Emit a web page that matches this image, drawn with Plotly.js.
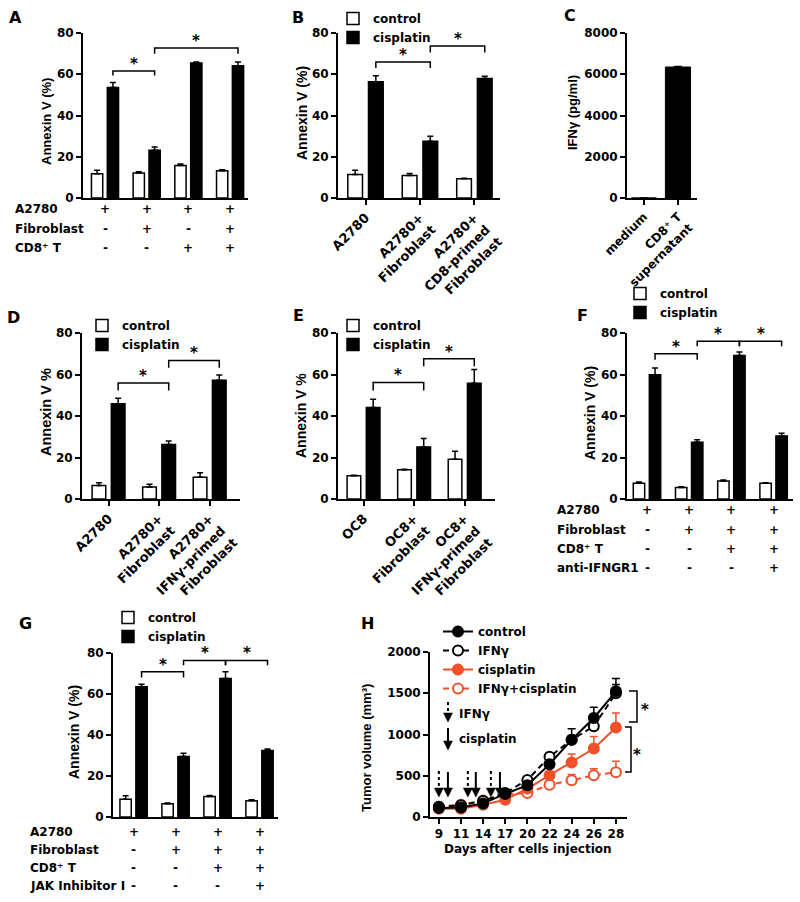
<!DOCTYPE html>
<html><head><meta charset="utf-8">
<script src="https://cdn.plot.ly/plotly-3.0.1.min.js"></script>
<style>html,body{margin:0;padding:0;background:#fff}#chart{width:800px;height:902px}</style>
</head><body><div id="chart"></div>
<script>
// ---------------- DATA ----------------
// Panel A
const groupsA = ['1', '2', '3', '4'];
const ctrlA = [11.8, 12.1, 15.8, 13.2];
const ctrlErrA = [1.6, 0.6, 0.7, 0.5];
const cisA = [53.6, 23.1, 65.4, 64.1];
const cisErrA = [2.4, 1.6, 0.5, 1.8];
const rowsA = ['A2780', 'Fibroblast', 'CD8⁺ T'];
const cellsA = [['+', '+', '+', '+'], ['-', '+', '-', '+'], ['-', '-', '+', '+']];
// Panel B
const groupsB = ['A2780', 'A2780+<br>Fibroblast', 'A2780+<br>CD8-primed<br>Fibroblast'];
const ctrlB = [11.4, 10.9, 9.3];
const ctrlErrB = [2.1, 1.0, 0.3];
const cisB = [56.4, 27.5, 58.0];
const cisErrB = [2.9, 2.4, 1.0];
// Panel C
const groupsC = ['medium', 'CD8⁺ T<br>supernatant'];
const ifngC = [0, 6350];
const ifngErrC = [0, 30];
// Panel D
const groupsD = ['A2780', 'A2780+<br>Fibroblast', 'A2780+<br>IFNγ-primed<br>Fibroblast'];
const ctrlD = [6.5, 5.8, 10.5];
const ctrlErrD = [1.3, 1.3, 2.1];
const cisD = [45.9, 26.3, 57.2];
const cisErrD = [2.7, 1.6, 2.6];
// Panel E
const groupsE = ['OC8', 'OC8+<br>Fibroblast', 'OC8+<br>IFNγ-primed<br>Fibroblast'];
const ctrlE = [11.2, 14.1, 19.1];
const ctrlErrE = [0.2, 0.2, 3.9];
const cisE = [44.1, 25.1, 55.8];
const cisErrE = [4.0, 4.1, 6.6];
// Panel F
const groupsF = ['1', '2', '3', '4'];
const ctrlF = [7.6, 5.6, 8.7, 7.6];
const ctrlErrF = [0.6, 0.3, 0.5, 0.2];
const cisF = [59.9, 27.4, 69.1, 30.4];
const cisErrF = [3.2, 1.1, 1.8, 1.3];
const rowsF = ['A2780', 'Fibroblast', 'CD8⁺ T', 'anti-IFNGR1'];
const cellsF = [['+', '+', '+', '+'], ['-', '+', '+', '+'], ['-', '-', '+', '+'], ['-', '-', '-', '+']];
// Panel G
const groupsG = ['1', '2', '3', '4'];
const ctrlG = [8.7, 6.5, 10.0, 7.9];
const ctrlErrG = [1.7, 0.3, 0.5, 0.5];
const cisG = [63.5, 29.5, 67.5, 32.4];
const cisErrG = [1.2, 1.6, 3.3, 0.8];
const rowsG = ['A2780', 'Fibroblast', 'CD8⁺ T', 'JAK Inhibitor I'];
const cellsG = [['+', '+', '+', '+'], ['-', '+', '+', '+'], ['-', '-', '+', '+'], ['-', '-', '-', '+']];
// Panel H
const daysH = ['9', '11', '14', '17', '20', '22', '24', '26', '28'];
const controlH = [108, 116, 165, 280, 385, 640, 936, 1200, 1524];
const controlErrH = [10, 10, 15, 20, 30, 50, 134, 130, 155];
const ifngH = [125, 142, 195, 292, 450, 730, 935, 1100, 1500];
const ifngErrH = [10, 10, 15, 20, 25, 30, 40, 20, 106];
const cisH = [100, 100, 148, 210, 345, 505, 660, 830, 1085];
const cisErrH = [10, 10, 15, 20, 25, 40, 105, 145, 175];
const ifngCisH = [125, 150, 200, 275, 290, 390, 445, 505, 543];
const ifngCisErrH = [10, 10, 15, 20, 20, 20, 70, 80, 134];

// ---------------- HELPERS ----------------
const RED = '#F0502A';
const FONT = {family: 'DejaVu Sans', size: 12, weight: 'bold', color: 'black'};
const RFONT = {family: 'DejaVu Sans', size: 13, weight: 'bold', color: 'black'};
const TFONT = (s) => ({family: 'Liberation Sans', size: s, weight: 'bold', color: 'black'});
const PX = (x) => x / 800;
const PY = (y) => 1 - y / 902;
const idx = (a) => a.map((_, i) => i);
const zeros = (a) => a.map(() => 0);
const axId = (n, t) => (n === 1 ? t : t + n);
const axKey = (n, t) => (n === 1 ? t + 'axis' : t + 'axis' + n);

const traces = [], annotations = [], shapes = [];
const layout = {
  width: 800, height: 902, margin: {l: 0, r: 0, t: 0, b: 0},
  paper_bgcolor: 'white', plot_bgcolor: 'rgba(0,0,0,0)',
  font: FONT, barmode: 'overlay', hovermode: false,
  annotations, shapes
};

function eb(arr, color, w) {
  return {type: 'data', symmetric: false, array: arr, arrayminus: zeros(arr),
          color: color, thickness: 1.5, width: w || 3};
}

function setAxes(p) {
  const xa = {
    domain: [PX(p.x[0]), PX(p.x[1])], range: p.xr, anchor: axId(p.id, 'y'),
    showline: true, linewidth: 2, linecolor: 'black', showgrid: false, zeroline: false,
    ticks: p.labels ? 'outside' : '', ticklen: 5, tickwidth: 2, tickcolor: 'black',
    showticklabels: !!p.labels, tickfont: FONT, fixedrange: true, automargin: false
  };
  if (p.category) { xa.type = 'category'; }
  else if (p.labels) { xa.tickmode = 'array'; xa.tickvals = idx(p.labels); xa.ticktext = p.labels; xa.tickangle = -45; xa.tickfont = p.tfont || RFONT; }
  layout[axKey(p.id, 'x')] = xa;
  layout[axKey(p.id, 'y')] = {
    domain: [PY(p.y[0]), PY(p.y[1])], range: p.yr, anchor: axId(p.id, 'x'),
    showline: true, linewidth: 2, linecolor: 'black', showgrid: false, zeroline: false,
    ticks: 'outside', ticklen: 5, tickwidth: 2, tickcolor: 'black',
    tick0: 0, dtick: p.dtick, tickfont: FONT, fixedrange: true, automargin: false
  };
  annotations.push({xref: 'paper', yref: 'paper', x: PX(p.tx), y: PY(p.ty), text: p.title,
    textangle: -90, showarrow: false, font: TFONT(p.ts), xanchor: 'center', yanchor: 'middle'});
  annotations.push({xref: 'paper', yref: 'paper', x: PX(p.lx), y: PY(p.ly), text: p.letter,
    showarrow: false, font: {family: 'DejaVu Sans', size: 16, weight: 'bold', color: 'black'},
    xanchor: 'center', yanchor: 'middle'});
}

const W = 0.27, OFF = 0.19;
function addBars(n, groups, ctrl, ctrlErr, cis, cisErr, legendId) {
  const x = idx(groups);
  const common = {type: 'bar', x: x, xaxis: axId(n, 'x'), yaxis: axId(n, 'y'), width: W,
                  showlegend: !!legendId, legend: legendId || 'legend'};
  traces.push(Object.assign({}, common, {y: ctrl, offset: -OFF - W / 2, name: 'control',
    marker: {color: 'white', line: {color: 'black', width: 1.5}}, error_y: eb(ctrlErr, 'black')}));
  traces.push(Object.assign({}, common, {y: cis, offset: OFF - W / 2, name: 'cisplatin',
    marker: {color: 'black', line: {color: 'black', width: 1.5}}, error_y: eb(cisErr, 'black')}));
}

function bracket(n, g0, g1, y, yEnd) {
  const x0 = g0 + OFF, x1 = g1 + OFF;
  shapes.push({type: 'path', xref: axId(n, 'x'), yref: axId(n, 'y'),
    path: `M${x0},${yEnd} L${x0},${y} L${x1},${y} L${x1},${yEnd}`,
    line: {color: 'black', width: 1.5}});
  annotations.push({xref: axId(n, 'x'), yref: axId(n, 'y'), x: (x0 + x1) / 2, y: y, text: '*',
    showarrow: false, yanchor: 'bottom', yshift: -4,
    font: {family: 'DejaVu Sans', size: 15, weight: 'bold', color: 'black'}});
}

function addTable(n, rows, rowY, labelX, cells) {
  rows.forEach((r, ri) => {
    annotations.push({xref: 'paper', yref: 'paper', x: PX(labelX), y: PY(rowY[ri]), xanchor: 'left',
      yanchor: 'middle', text: r, showarrow: false, font: FONT});
    cells[ri].forEach((c, ci) => annotations.push({xref: axId(n, 'x'), yref: 'paper', x: ci,
      y: PY(rowY[ri]), xanchor: 'center', yanchor: 'middle', text: c, showarrow: false, font: FONT}));
  });
}

function legendAt(left, top) {
  return {x: PX(left), y: PY(top), xanchor: 'left', yanchor: 'top', bgcolor: 'rgba(0,0,0,0)',
          borderwidth: 0, font: FONT, tracegroupgap: 0, itemclick: false, itemdoubleclick: false};
}

// ---------------- PANELS ----------------
setAxes({id: 1, x: [83, 248], y: [198, 33], xr: [-0.528, 3.43], yr: [0, 80], dtick: 20,
  title: 'Annexin V (%)', tx: 46, ty: 122, ts: 13, letter: 'A', lx: 15, ly: 18});
setAxes({id: 2, x: [338, 500], y: [198, 33], xr: [-0.505, 2.47], yr: [0, 80], dtick: 20, labels: groupsB,
  title: 'Annexin V (%)', tx: 302, ty: 113, ts: 14, letter: 'B', lx: 298, ly: 18});
setAxes({id: 3, x: [627, 697], y: [198, 33], xr: [-0.5, 1.56], yr: [0, 8000], dtick: 2000, labels: groupsC,
  tfont: FONT, title: 'IFNγ (pg/ml)', tx: 573, ty: 113, ts: 13, letter: 'C', lx: 570, ly: 16});
setAxes({id: 4, x: [82, 240], y: [499, 333], xr: [-0.525, 2.6], yr: [0, 80], dtick: 20, labels: groupsD,
  title: 'Annexin V %', tx: 46, ty: 412, ts: 14.5, letter: 'D', lx: 13, ly: 317});
setAxes({id: 5, x: [338, 495], y: [499, 333], xr: [-0.505, 2.6], yr: [0, 80], dtick: 20, labels: groupsE,
  title: 'Annexin V %', tx: 301, ty: 416, ts: 14, letter: 'E', lx: 298, ly: 315});
setAxes({id: 6, x: [627, 793], y: [499, 333], xr: [-0.474, 3.46], yr: [0, 80], dtick: 20,
  title: 'Annexin V (%)', tx: 590, ty: 413, ts: 14, letter: 'F', lx: 582, ly: 315});
setAxes({id: 7, x: [113, 278], y: [817, 653], xr: [-0.49, 3.44], yr: [0, 80], dtick: 20,
  title: 'Annexin V (%)', tx: 74, ty: 732, ts: 14, letter: 'G', lx: 25, ly: 623});
setAxes({id: 8, x: [430, 627], y: [817, 652], xr: [-0.4, 8.5], yr: [0, 2000], dtick: 500, category: true,
  title: 'Tumor volume (mm³)', tx: 366, ty: 748, ts: 13, letter: 'H', lx: 367, ly: 623});
layout.xaxis8.ticks = 'outside';
layout.xaxis8.showticklabels = true;

addBars(1, groupsA, ctrlA, ctrlErrA, cisA, cisErrA, null);
addBars(2, groupsB, ctrlB, ctrlErrB, cisB, cisErrB, 'legend2');
traces.push({type: 'bar', x: idx(groupsC), y: ifngC, xaxis: 'x3', yaxis: 'y3', width: 0.74, offset: -0.37,
  showlegend: false, marker: {color: 'black', line: {color: 'black', width: 1}}, error_y: eb(ifngErrC, 'black', 4)});
addBars(4, groupsD, ctrlD, ctrlErrD, cisD, cisErrD, 'legend3');
addBars(5, groupsE, ctrlE, ctrlErrE, cisE, cisErrE, 'legend4');
addBars(6, groupsF, ctrlF, ctrlErrF, cisF, cisErrF, 'legend5');
addBars(7, groupsG, ctrlG, ctrlErrG, cisG, cisErrG, 'legend6');

// significance brackets
bracket(1, 0, 1, 61.6, 59.4); bracket(1, 1, 3, 72.7, 70.0);
bracket(2, 0, 1, 65.9, 63.0); bracket(2, 1, 2, 73.7, 70.5);
bracket(4, 0, 1, 55.9, 52.3); bracket(4, 1, 2, 66.8, 63.2);
bracket(5, 0, 1, 56.2, 52.3); bracket(5, 1, 2, 67.6, 64.0);
bracket(6, 0, 1, 70.0, 67.1); bracket(6, 1, 2, 76.0, 73.6); bracket(6, 2, 3, 76.0, 73.6);
bracket(7, 0, 1, 70.8, 68.0); bracket(7, 1, 2, 76.4, 74.0); bracket(7, 2, 3, 76.4, 74.0);

// condition tables
addTable(1, rowsA, [209, 229, 248], 13, cellsA);
addTable(6, rowsF, [510, 530, 549, 568], 555, cellsF);
addTable(7, rowsG, [832, 850, 868, 886], 28, cellsG);

// legends
layout.legend2 = legendAt(333, 4);
layout.legend3 = legendAt(82, 311);
layout.legend4 = legendAt(333, 311);
layout.legend5 = legendAt(620, 279);
layout.legend6 = legendAt(108, 603);
layout.legend = legendAt(438, 617);

// Panel H lines
function hTrace(name, y, err, color, dash, open, rank) {
  return {type: 'scatter', mode: 'lines+markers', name: name, x: daysH, y: y, xaxis: 'x8', yaxis: 'y8',
    line: {color: color, width: 2, dash: dash}, legendrank: rank, legend: 'legend',
    marker: {size: 10, color: open ? 'white' : color, line: {color: color, width: 2}},
    error_y: eb(err, color, 4), cliponaxis: false};
}
traces.push(hTrace('IFNγ+cisplatin', ifngCisH, ifngCisErrH, RED, '6px,4px', true, 4));
traces.push(hTrace('cisplatin', cisH, cisErrH, RED, 'solid', false, 3));
traces.push(hTrace('IFNγ', ifngH, ifngErrH, 'black', '6px,4px', true, 2));
traces.push(hTrace('control', controlH, controlErrH, 'black', 'solid', false, 1));

// x title H
annotations.push({xref: 'paper', yref: 'paper', x: PX(528), y: PY(849), text: 'Days after cells injection',
  showarrow: false, font: FONT, xanchor: 'center', yanchor: 'middle'});

// dosing arrows in H (drawn as shapes: stem + filled head)
const hDom = [430, 627], hRange = [-0.4, 8.5];
const hPix = (i) => hDom[0] + (i - hRange[0]) / (hRange[1] - hRange[0]) * (hDom[1] - hDom[0]);
function arrowShape(xp, yTop, yTip, dashed) {
  const headH = 9, headW = 4.5;
  shapes.push({type: 'line', xref: 'paper', yref: 'paper', x0: PX(xp), x1: PX(xp),
    y0: PY(yTop), y1: PY(yTip - headH + 1), line: {color: 'black', width: 2, dash: dashed ? 'dot' : 'solid'}});
  shapes.push({type: 'path', xref: 'paper', yref: 'paper', fillcolor: 'black',
    path: `M${PX(xp - headW)},${PY(yTip - headH)} L${PX(xp + headW)},${PY(yTip - headH)} L${PX(xp)},${PY(yTip)} Z`,
    line: {color: 'black', width: 0.5}});
}
[0, 1.31, 2.35].forEach(v => arrowShape(hPix(v), 771, 797, true));
[0.41, 1.67, 2.76].forEach(v => arrowShape(hPix(v), 772, 797, false));
arrowShape(448, 702, 722, true);
arrowShape(448, 728, 750, false);
annotations.push({xref: 'paper', yref: 'paper', x: PX(457), y: PY(714), text: 'IFNγ', showarrow: false,
  font: FONT, xanchor: 'left', yanchor: 'middle'});
annotations.push({xref: 'paper', yref: 'paper', x: PX(457), y: PY(739), text: 'cisplatin', showarrow: false,
  font: FONT, xanchor: 'left', yanchor: 'middle'});

// H significance brackets
function hBracket(xIn, xOut, yTop, yBot, sx, sy) {
  shapes.push({type: 'path', xref: 'paper', yref: 'paper',
    path: `M${PX(xIn)},${PY(yTop)} L${PX(xOut)},${PY(yTop)} L${PX(xOut)},${PY(yBot)} L${PX(xIn)},${PY(yBot)}`,
    line: {color: 'black', width: 1.5}});
  annotations.push({xref: 'paper', yref: 'paper', x: PX(sx), y: PY(sy + 3), text: '*', showarrow: false,
    xanchor: 'center', yanchor: 'middle', font: {family: 'DejaVu Sans', size: 15, weight: 'bold', color: 'black'}});
}
hBracket(629, 637, 691, 722, 645, 707);
hBracket(625, 631, 727, 772, 637, 752);

Plotly.newPlot('chart', traces, layout, {staticPlot: true, displayModeBar: false});
</script></body></html>
